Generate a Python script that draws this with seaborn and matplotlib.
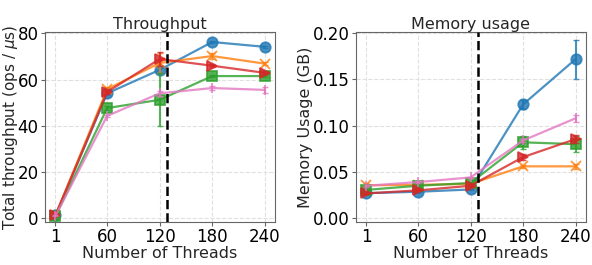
import matplotlib
matplotlib.use("Agg")
import matplotlib.pyplot as plt
import seaborn as sns
import pandas as pd

threads = [1, 60, 120, 180, 240]
series = ["A", "B", "C", "D", "E"]
colors = ["tab:blue", "tab:orange", "tab:green", "tab:red", "tab:pink"]
markers = ["o", "x", "s", ">", "|"]

# throughput (ops / us), mean and spread
tput = {
    "A": [1.0, 54.0, 64.2, 76.3, 74.2],
    "B": [1.0, 55.8, 67.2, 70.2, 66.9],
    "C": [0.6, 47.6, 51.2, 61.5, 61.5],
    "D": [1.0, 54.6, 68.9, 66.0, 62.9],
    "E": [0.8, 44.2, 54.0, 56.3, 55.5],
}
tput_err = {
    "A": [0.2, 0.8, 1.5, 0.6, 0.5],
    "B": [0.2, 0.8, 4.5, 1.5, 0.5],
    "C": [0.2, 0.8, 11.5, 0.6, 0.6],
    "D": [0.2, 0.8, 3.0, 0.6, 0.5],
    "E": [0.2, 0.6, 1.0, 0.8, 1.2],
}

# memory usage (GB)
mem = {
    "A": [0.027, 0.0285, 0.031, 0.123, 0.172],
    "B": [0.0355, 0.036, 0.037, 0.056, 0.056],
    "C": [0.0305, 0.035, 0.038, 0.082, 0.080],
    "D": [0.0267, 0.030, 0.035, 0.066, 0.0855],
    "E": [0.035, 0.039, 0.044, 0.084, 0.108],
}
mem_err = {
    "A": [0.001, 0.001, 0.001, 0.005, 0.021],
    "B": [0.002, 0.001, 0.001, 0.002, 0.003],
    "C": [0.001, 0.001, 0.001, 0.007, 0.009],
    "D": [0.001, 0.001, 0.001, 0.003, 0.004],
    "E": [0.001, 0.001, 0.001, 0.002, 0.004],
}

sns.set_style("whitegrid", {
    "axes.edgecolor": "0.4",
    "grid.color": "0.88",
    "grid.linestyle": "--",
    "xtick.bottom": True,
    "ytick.left": True,
    "xtick.color": "0.4",
    "ytick.color": "0.4",
})
plt.rcParams["font.family"] = ["DejaVu Sans"]

fig, axes = plt.subplots(1, 2, figsize=(5.92, 2.65), dpi=100)


def draw(ax, vals, errs):
    for name, c, m in zip(series, colors, markers):
        df = pd.DataFrame({"threads": threads, "value": vals[name]})
        sns.lineplot(data=df, x="threads", y="value", color=c, marker=m,
                     markersize=7.5, markeredgewidth=1.3, markeredgecolor=c,
                     linewidth=1.6, alpha=0.8, ax=ax)
        ax.errorbar(threads, vals[name], yerr=errs[name], fmt="none",
                    ecolor=c, elinewidth=1.5, capsize=2.5, alpha=0.8)
    ax.axvline(128, color="black", linestyle="--", linewidth=1.8, zorder=5)
    ax.set_xticks(threads)
    ax.tick_params(labelsize=12, labelcolor="black", length=3, pad=1.5)
    ax.set_xlabel("Number of Threads", fontsize=11.5, labelpad=0)


draw(axes[0], tput, tput_err)
axes[0].set_ylim(-1.8, 80.5)
axes[0].set_yticks([0, 20, 40, 60, 80])
axes[0].set_title("Throughput", fontsize=11.5, pad=1)
axes[0].set_ylabel("Total throughput (ops / $\\mu$s)", fontsize=11)
axes[0].yaxis.set_label_coords(-0.11, 0.5)

draw(axes[1], mem, mem_err)
axes[1].set_ylim(-0.004, 0.201)
axes[1].set_yticks([0.0, 0.05, 0.10, 0.15, 0.20])
axes[1].set_yticklabels(["0.00", "0.05", "0.10", "0.15", "0.20"])
axes[1].set_title("Memory usage", fontsize=11.5, pad=1)
axes[1].set_ylabel("Memory Usage (GB)", fontsize=11.5, labelpad=0)

fig.subplots_adjust(left=0.076, right=0.99, bottom=0.163, top=0.878, wspace=0.35)
fig.savefig("out.png", dpi=100)
